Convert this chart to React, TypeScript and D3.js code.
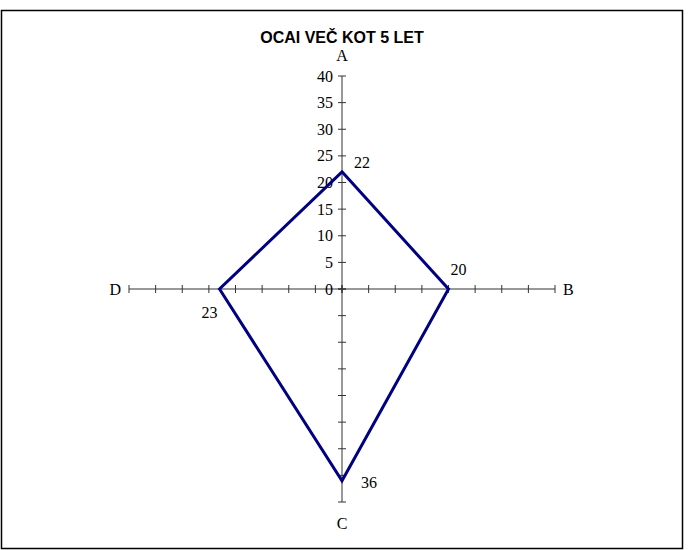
import React from "react";
import * as d3 from "d3";

const categories = ["A", "B", "C", "D"];
const values = [22, 20, 36, 23];
const tickValues = [0, 5, 10, 15, 20, 25, 30, 35, 40];
const title = "OCAI VEČ KOT 5 LET";

const W = 695;
const H = 550;
const cx = 342;
const cy = 289;
const R = 213;
// Data label offsets relative to point (layout only)
const labelOffsets: [number, number][] = [
  [20, -4],
  [10, -14],
  [27, 7],
  [-10, 29],
];

export default function App() {
  const r = d3.scaleLinear().domain([0, 40]).range([0, R]);
  const step = (2 * Math.PI) / categories.length;
  const ang = (i: number) => i * step; // 0 = up, clockwise
  const pt = (i: number, v: number): [number, number] => [
    cx + r(v) * Math.sin(ang(i)),
    cy - r(v) * Math.cos(ang(i)),
  ];

  const line = d3
    .lineRadial<number>()
    .angle((_, i) => ang(i))
    .radius((d) => r(d))
    .curve(d3.curveLinearClosed);

  const axisColor = "#333333";
  const serif = "'Liberation Serif', 'Times New Roman', serif";

  return (
    <svg
      width={W}
      height={H}
      style={{ position: "absolute", left: 0, top: 0, background: "#fff" }}
    >
      <rect x={1.5} y={10.5} width={681} height={538} fill="#fff" stroke="#000" strokeWidth={1.5} />
      <text
        x={342}
        y={43}
        textAnchor="middle"
        fontFamily="'Liberation Sans', Arial, sans-serif"
        fontWeight="bold"
        fontSize={16}
      >
        {title}
      </text>
      {categories.map((c, i) => {
        const [x2, y2] = pt(i, 40);
        const dx = Math.sin(ang(i));
        const dy = -Math.cos(ang(i));
        return (
          <g key={c}>
            <line x1={cx} y1={cy} x2={x2} y2={y2} stroke={axisColor} strokeWidth={1} />
            {tickValues.map((t) => {
              const [tx, ty] = pt(i, t);
              const px = -dy * 4;
              const py = dx * 4;
              return (
                <line
                  key={t}
                  x1={tx - px}
                  y1={ty - py}
                  x2={tx + px}
                  y2={ty + py}
                  stroke={axisColor}
                  strokeWidth={1}
                />
              );
            })}
          </g>
        );
      })}
      {tickValues.map((t) => (
        <text
          key={t}
          x={333}
          y={cy - r(t) + 5.5}
          textAnchor="end"
          fontFamily={serif}
          fontSize={16}
          fill="#000"
        >
          {t}
        </text>
      ))}
      {categories.map((c, i) => {
        const [x, y] = pt(i, 40);
        const off = [
          [0, -15],
          [8, 6],
          [0, 27],
          [-8, 6],
        ][i];
        return (
          <text
            key={c}
            x={x + off[0]}
            y={y + off[1]}
            textAnchor={i === 1 ? "start" : i === 3 ? "end" : "middle"}
            fontFamily={serif}
            fontSize={16}
          >
            {c}
          </text>
        );
      })}
      <path
        d={line(values) || ""}
        transform={`translate(${cx},${cy})`}
        fill="none"
        stroke="#000080"
        strokeWidth={3}
        strokeLinejoin="miter"
      />
      {values.map((v, i) => {
        const [x, y] = pt(i, v);
        return (
          <text
            key={i}
            x={x + labelOffsets[i][0]}
            y={y + labelOffsets[i][1]}
            textAnchor="middle"
            fontFamily={serif}
            fontSize={16}
          >
            {v}
          </text>
        );
      })}
    </svg>
  );
}
